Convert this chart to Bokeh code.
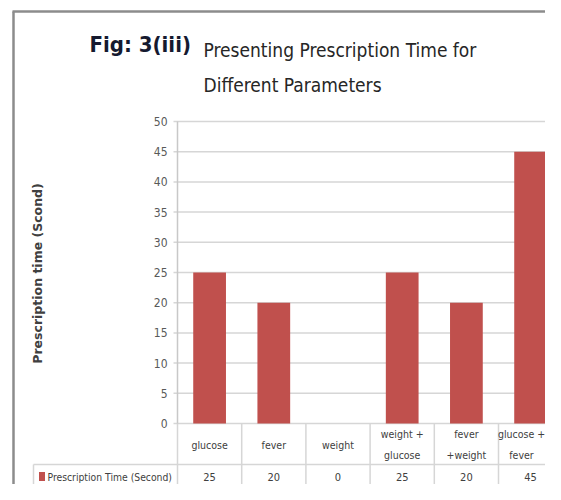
from math import pi
from bokeh.plotting import figure
from bokeh.models import Range1d, ColumnDataSource
from bokeh.core.properties import value
from bokeh.embed import file_html
from bokeh.resources import INLINE

# ---- data ----
categories = ["glucose", "fever", "weight", "weight + glucose",
              "fever +weight", "glucose + fever"]
cat_labels = ["glucose", "fever", "weight", "weight +\nglucose",
              "fever\n+weight", "glucose +\nfever"]
values = [25, 20, 0, 25, 20, 45]
y_ticks = [0, 5, 10, 15, 20, 25, 30, 35, 40, 45, 50]
series_name = "Prescription Time (Second)"
y_label = "Prescription time (Scond)"
title_fig = "Fig: 3(iii)"
title_lines = ["Presenting Prescription Time for", "Different Parameters"]

# ---- geometry (canvas pixels, origin top-left) ----
W, H = 545, 484
FL, FT, FB = 177, 121, 423          # plot-area left / top / bottom
CAT_PX = 64.2                        # width of one category column
YMAX = 50
PY = (FB - FT) / YMAX

def X(px):
    return (px - FL) / CAT_PX

def Y(py):
    return (FB - py) / PY

COND = value("DejaVu Sans Condensed")
BAR = "#C0504D"
GRID = "#d6d6d6"
TXT = "#404040"

p = figure(width=W, height=H, output_backend="svg", toolbar_location=None,
           x_range=Range1d(X(0), X(W)), y_range=Range1d(Y(H), Y(0)),
           x_axis_location=None, y_axis_location=None, min_border=0)
p.outline_line_color = None
p.grid.visible = False
p.background_fill_color = "white"
p.border_fill_color = "white"

ncat = len(categories)
xmax = X(W + 20)

# horizontal gridlines (value axis 0..50) with small outside ticks
p.segment(x0=[X(173)] * len(y_ticks), x1=[xmax] * len(y_ticks),
          y0=y_ticks, y1=y_ticks, line_color=GRID, line_width=1.5)
# value-axis tick labels
p.text(x=[X(167)] * len(y_ticks), y=y_ticks, text=[str(t) for t in y_ticks],
       text_font=COND, text_font_size="12px", text_color="#595959",
       text_align="right", text_baseline="middle")

# bars
src = ColumnDataSource(dict(x=[i + 0.5 for i in range(ncat)], top=values,
                            cat=categories))
p.vbar(x="x", top="top", width=0.51, bottom=0, source=src,
       fill_color=BAR, line_color=None)

# data table under the axis
row1, row2 = Y(464), Y(488)
p.segment(x0=[X(33), X(33)], x1=[xmax, xmax], y0=[row1, row2], y1=[row1, row2],
          line_color=GRID, line_width=1.5)
p.segment(x0=list(range(ncat + 1)), x1=list(range(ncat + 1)),
          y0=[0] * (ncat + 1), y1=[row2] * (ncat + 1),
          line_color=GRID, line_width=1.5)
p.segment(x0=[X(33)], x1=[X(33)], y0=[row1], y1=[row2],
          line_color=GRID, line_width=1.5)
# value axis line (left edge of plot area)
p.segment(x0=[0], x1=[0], y0=[0], y1=[YMAX], line_color="#c8c8c8",
          line_width=1.5)

# category labels: centred in their column, kept inside the canvas
label_x = [min(i + 0.5, X(W - 24)) for i in range(ncat)]
p.text(x=label_x, y=[Y(444)] * ncat, text=cat_labels,
       text_font=COND, text_font_size="10.5px", text_color=TXT,
       text_align="center", text_baseline="middle", text_line_height=1.7)
p.text(x=[i + 0.5 for i in range(ncat)], y=[Y(476)] * ncat,
       text=[str(v) for v in values],
       text_font=COND, text_font_size="11px", text_color=TXT,
       text_align="center", text_baseline="middle")

# legend key + series name in the table
p.rect(x=[X(41.5)], y=[Y(476)], width=6 / CAT_PX, height=9 / PY,
       fill_color=BAR, line_color=None)
p.text(x=[X(47)], y=[Y(476)], text=[series_name], text_font=COND,
       text_font_size="10.3px", text_color=TXT, text_baseline="middle")

# value-axis title
p.text(x=[X(37)], y=[Y(273)], text=[y_label], angle=pi / 2,
       text_font=value("DejaVu Sans"), text_font_style="bold",
       text_font_size="12.5px", text_color=TXT,
       text_align="center", text_baseline="middle")

# chart title
p.text(x=[X(89)], y=[Y(44)], text=[title_fig], text_font=COND,
       text_font_style="bold", text_font_size="22px", text_color="#151a30",
       text_baseline="middle")
p.text(x=[X(203)] * 2, y=[Y(49), Y(84.5)], text=title_lines,
       text_font=COND, text_font_size="19px", text_color="#262626",
       text_baseline="middle")

# outer border of the figure image (left and top edges)
p.segment(x0=[X(13), X(12)], x1=[X(13), X(W + 2)],
          y0=[Y(H + 10), Y(11)], y1=[Y(11), Y(11)],
          line_color="#8c8c8c", line_width=2.5)

open("out.html", "w").write(file_html(p, INLINE))
